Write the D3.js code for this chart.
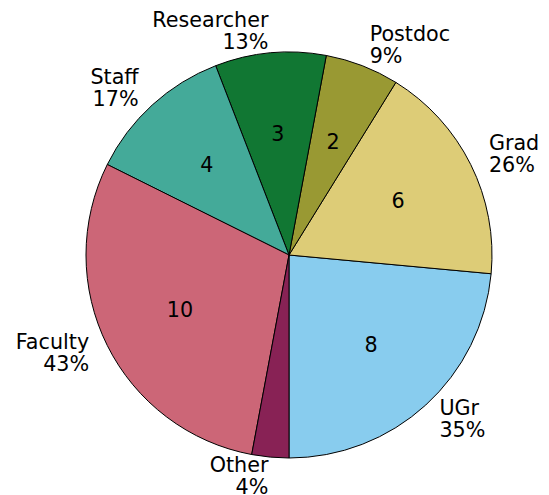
<!DOCTYPE html>
<html>
<head>
<meta charset="utf-8">
<script src="https://cdn.jsdelivr.net/npm/d3@7"></script>
<style>
  body { margin: 0; background: #fff; }
  text { font-family: "DejaVu Sans", sans-serif; font-size: 20.7px; fill: #000; }
</style>
</head>
<body>
<svg id="pie"></svg>
<script>
// data
var categories = ["UGr", "Grad", "Postdoc", "Researcher", "Staff", "Faculty", "Other"];
var counts = [8, 6, 2, 3, 4, 10, 1];
var pctLabels = ["35%", "26%", "9%", "13%", "17%", "43%", "4%"];
var colors = ["#88CCEE", "#DDCC77", "#999933", "#117733", "#44AA99", "#CC6677", "#882255"];

var width = 549,
    height = 495,
    radius = 203;

var data = categories.map(function(c, i) {
    return {label: c, value: counts[i], pct: pctLabels[i], color: colors[i]};
});

// start at the bottom, go counter-clockwise (like matplotlib startangle=270)
var pie = d3.pie()
    .sort(null)
    .startAngle(Math.PI)
    .endAngle(-Math.PI)
    .value(function(d) { return d.value; })(data);

var arc = d3.arc()
    .outerRadius(radius)
    .innerRadius(0);

var svg = d3.select("#pie")
    .attr("width", width)
    .attr("height", height)
    .append("g")
    .attr("transform", "translate(289,255)");

svg.selectAll("path.slice")
    .data(pie)
    .enter()
    .append("path")
    .attr("class", "slice")
    .attr("d", arc)
    .style("fill", function(d) { return d.data.color; })
    .style("stroke", "#000")
    .style("stroke-width", 1);

// counts inside at 0.6 r (the tiny slice gets none, as in the original)
svg.selectAll("text.count")
    .data(pie.filter(function(d) { return d.data.value > 1; }))
    .enter()
    .append("text")
    .attr("class", "count")
    .attr("x", function(d) { return 0.6 * radius * Math.sin((d.startAngle + d.endAngle) / 2); })
    .attr("y", function(d) { return -0.6 * radius * Math.cos((d.startAngle + d.endAngle) / 2); })
    .attr("text-anchor", "middle")
    .attr("dy", "0.36em")
    .text(function(d) { return d.data.value; });

// name + percent outside at 1.1 r
var lab = svg.selectAll("text.lab")
    .data(pie)
    .enter()
    .append("text")
    .attr("class", "lab")
    .attr("text-anchor", function(d) {
        return Math.sin((d.startAngle + d.endAngle) / 2) < 0 ? "end" : "start";
    })
    .each(function(d) {
        var a = (d.startAngle + d.endAngle) / 2;
        var x = 1.1 * radius * Math.sin(a),
            y = -1.1 * radius * Math.cos(a);
        var t = d3.select(this);
        t.append("tspan").attr("x", x).attr("y", y - 5.5).text(d.data.label);
        t.append("tspan").attr("x", x).attr("y", y + 16.5).text(d.data.pct);
    });
</script>
</body>
</html>
